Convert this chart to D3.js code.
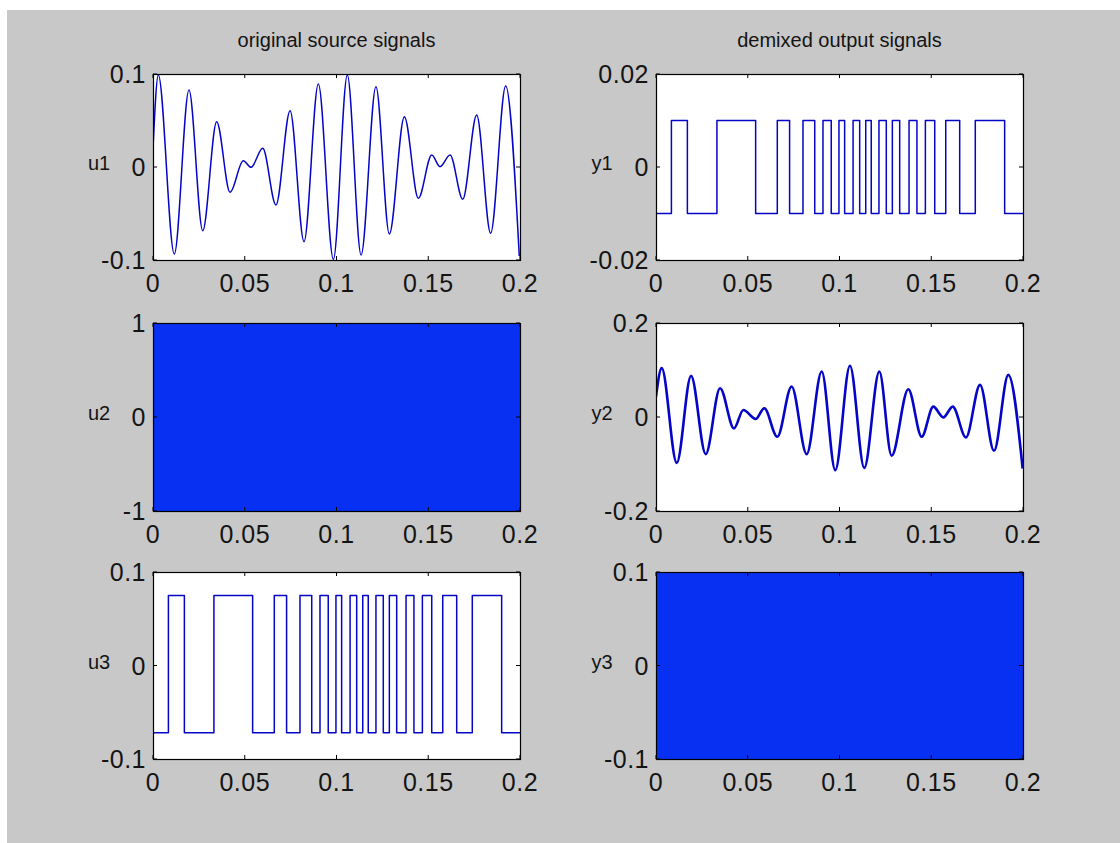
<!DOCTYPE html>
<html>
<head>
<meta charset="utf-8">
<script src="https://cdn.jsdelivr.net/npm/d3@7"></script>
<style>
	body { margin: 0; background: #fff; }
	svg { display: block; }
	text { font-family: "Liberation Sans", Arial, sans-serif; fill: #141414; }
</style>
</head>
<body>
<script>
const xTicks = [0, 0.05, 0.1, 0.15, 0.2];
const xTickLabels = ['0', '0.05', '0.1', '0.15', '0.2'];
const columnTitles = ['original source signals', 'demixed output signals'];

// turning points of the beating sine source, [t, value]
const u1Points = [
	[0, 0.02], [0.0029, 0.099], [0.0116, -0.0935], [0.0196, 0.0828], [0.0271, -0.0685],
	[0.0347, 0.0487], [0.0420, -0.0272], [0.0492, 0.0068], [0.0534, -0.0004], [0.0598, 0.0201],
	[0.0670, -0.0409], [0.0747, 0.0606], [0.0823, -0.0803], [0.0901, 0.0892], [0.0983, -0.0993],
	[0.1059, 0.0989], [0.1134, -0.0946], [0.1215, 0.0864], [0.1288, -0.0720], [0.1370, 0.0541],
	[0.1446, -0.0337], [0.1519, 0.0129], [0.1564, 0.0004], [0.1619, 0.0129], [0.1688, -0.0348],
	[0.1764, 0.0559], [0.1840, -0.0713], [0.1922, 0.0871], [0.1996, -0.0957]
];

// same for the recovered one
const y2Points = [
	[0, 0.0434], [0.0031, 0.104], [0.0113, -0.0976], [0.0191, 0.0876], [0.0271, -0.079],
	[0.0349, 0.0613], [0.0425, -0.0242], [0.0476, 0.015], [0.0543, -0.0043], [0.0590, 0.0185],
	[0.0661, -0.042], [0.0739, 0.0648], [0.0821, -0.079], [0.0903, 0.0969], [0.0977, -0.1132],
	[0.1057, 0.109], [0.1135, -0.1083], [0.1217, 0.0969], [0.1284, -0.0826], [0.1375, 0.0591],
	[0.1448, -0.042], [0.1511, 0.0221], [0.1566, -0.0007], [0.1617, 0.0221], [0.1689, -0.0434],
	[0.1766, 0.0684], [0.1842, -0.0719], [0.1920, 0.0897], [0.1998, -0.1097]
];

// switch times of the square source (u3 and y1 share them)
const squareEdges = [
	0.0084, 0.0171, 0.0332, 0.0543, 0.0661, 0.0728, 0.0801, 0.0865, 0.0910, 0.0955,
	0.0997, 0.1028, 0.1074, 0.1110, 0.1143, 0.1173, 0.1215, 0.1255, 0.1288, 0.1328,
	0.1379, 0.1422, 0.1468, 0.1519, 0.1579, 0.1655, 0.1740, 0.1900
];
const u3Levels = [-0.072, 0.075];
const y1Levels = [-0.01, 0.01];

// noise: so dense it fills the band, [t, low, high]
const u2Band = [[0, -1, 1], [0.2, -1, 1]];
const y3Band = [[0, -0.1, 0.1], [0.2, -0.1, 0.1]];

const u1Ticks = ['-0.1', '0', '0.1'];
const u2Ticks = ['-1', '0', '1'];
const u3Ticks = ['-0.1', '0', '0.1'];
const y1Ticks = ['-0.02', '0', '0.02'];
const y2Ticks = ['-0.2', '0', '0.2'];
const y3Ticks = ['-0.1', '0', '0.1'];

const width = 1120, height = 843;
const blue = '#0505c8';
const fillBlue = '#0730f2';

const cols = [[153, 520], [656, 1023]];
const rows = [[74, 260], [323, 511], [572, 759]];

function squareSeries(edges, levels) {
	let pts = [[0, levels[0]]];
	edges.forEach((t, i) => pts.push([t, levels[(i + 1) % 2]]));
	pts.push([0.2, levels[edges.length % 2]]);
	return pts;
}

const panels = [
	{ name: 'u1', col: 0, row: 0, lim: 0.1, ticks: u1Ticks, kind: 'line', data: u1Points, w: 1.5 },
	{ name: 'u2', col: 0, row: 1, lim: 1, ticks: u2Ticks, kind: 'band', data: u2Band },
	{ name: 'u3', col: 0, row: 2, lim: 0.1, ticks: u3Ticks, kind: 'step', data: squareSeries(squareEdges, u3Levels), w: 1.5 },
	{ name: 'y1', col: 1, row: 0, lim: 0.02, ticks: y1Ticks, kind: 'step', data: squareSeries(squareEdges, y1Levels), w: 1.5 },
	{ name: 'y2', col: 1, row: 1, lim: 0.2, ticks: y2Ticks, kind: 'line', data: y2Points, w: 2.6 },
	{ name: 'y3', col: 1, row: 2, lim: 0.1, ticks: y3Ticks, kind: 'band', data: y3Band }
];

let svg = d3.select('body').append('svg')
	.attr('width', width)
	.attr('height', height);

svg.append('rect').attr('x', 7).attr('y', 10)
	.attr('width', width - 7).attr('height', height - 10)
	.attr('fill', '#c8c8c8');

columnTitles.forEach((t, i) => {
	svg.append('text')
		.attr('x', (cols[i][0] + cols[i][1]) / 2)
		.attr('y', 47)
		.attr('text-anchor', 'middle')
		.style('font-size', '20px')
		.text(t);
});

for (let p of panels) {
	let [x0, x1] = cols[p.col];
	let [y0, y1] = rows[p.row];
	let x = d3.scaleLinear().domain([0, 0.2]).range([x0, x1]);
	let y = d3.scaleLinear().domain([-p.lim, p.lim]).range([y1, y0]);
	let g = svg.append('g').attr('class', 'panel ' + p.name);

	g.append('rect')
		.attr('x', x0).attr('y', y0)
		.attr('width', x1 - x0).attr('height', y1 - y0)
		.attr('fill', '#fff');

	let clipId = 'clip-' + p.name;
	g.append('clipPath').attr('id', clipId)
		.append('rect')
		.attr('x', x0).attr('y', y0 - 1)
		.attr('width', x1 - x0).attr('height', y1 - y0 + 2);

	if (p.kind === 'band') {
		let area = d3.area()
			.x(d => x(d[0]))
			.y0(d => y(d[1]))
			.y1(d => y(d[2]));
		g.append('path').datum(p.data)
			.attr('d', area)
			.attr('fill', fillBlue);
	} else {
		let line = d3.line()
			.x(d => x(d[0]))
			.y(d => y(d[1]))
			.curve(p.kind === 'step' ? d3.curveStepAfter : d3.curveMonotoneX);
		g.append('path').datum(p.data)
			.attr('clip-path', 'url(#' + clipId + ')')
			.attr('d', line)
			.attr('fill', 'none')
			.attr('stroke', blue)
			.attr('stroke-width', p.w)
			.attr('stroke-linejoin', 'round');
	}

	// inward ticks on all four sides, MATLAB style
	let tl = 4;
	let yVals = [-p.lim, 0, p.lim];
	xTicks.forEach(t => {
		g.append('line').attr('x1', x(t)).attr('x2', x(t)).attr('y1', y1).attr('y2', y1 - tl).attr('stroke', '#000');
		g.append('line').attr('x1', x(t)).attr('x2', x(t)).attr('y1', y0).attr('y2', y0 + tl).attr('stroke', '#000');
	});
	yVals.forEach(v => {
		g.append('line').attr('x1', x0).attr('x2', x0 + tl).attr('y1', y(v)).attr('y2', y(v)).attr('stroke', '#000');
		g.append('line').attr('x1', x1).attr('x2', x1 - tl).attr('y1', y(v)).attr('y2', y(v)).attr('stroke', '#000');
	});

	g.append('rect')
		.attr('x', x0 + 0.5).attr('y', y0 + 0.5)
		.attr('width', x1 - x0).attr('height', y1 - y0)
		.attr('fill', 'none')
		.attr('stroke', '#000')
		.attr('stroke-width', 1.2);

	g.selectAll('text.xt')
		.data(xTicks)
		.enter().append('text')
		.attr('class', 'xt')
		.attr('x', d => x(d))
		.attr('y', y1 + 32)
		.attr('text-anchor', 'middle')
		.style('font-size', '25px')
		.style('letter-spacing', '0.5px')
		.text((d, i) => xTickLabels[i]);

	g.selectAll('text.yt')
		.data(yVals)
		.enter().append('text')
		.attr('class', 'yt')
		.attr('x', x0 - 7)
		.attr('y', d => y(d) + 9)
		.attr('text-anchor', 'end')
		.style('font-size', '25px')
		.style('letter-spacing', '0.5px')
		.text((d, i) => p.ticks[i]);

	g.append('text')
		.attr('x', x0 - 54)
		.attr('y', (y0 + y1) / 2 + 3)
		.attr('text-anchor', 'middle')
		.style('font-size', '20px')
		.text(p.name);
}
</script>
</body>
</html>
